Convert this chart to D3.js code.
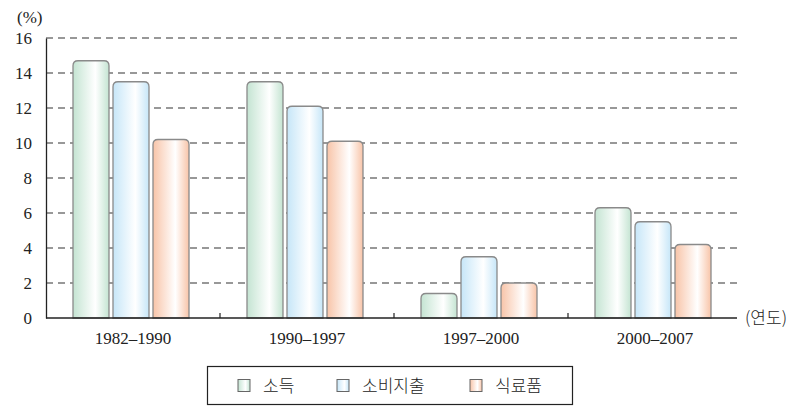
<!DOCTYPE html>
<html><head><meta charset="utf-8">
<script src="https://cdn.jsdelivr.net/npm/d3@7"></script>
<style>body{margin:0;background:#fff}</style>
</head><body>
<svg id="c" width="800" height="420"></svg>
<script>
const categories = ["1982–1990", "1990–1997", "1997–2000", "2000–2007"];
const seriesNames = ["소득", "소비지출", "식료품"];
const income = [14.7, 13.5, 1.4, 6.3];
const spending = [13.5, 12.1, 3.5, 5.5];
const food = [10.2, 10.1, 2.0, 4.2];
const yTicks = [0, 2, 4, 6, 8, 10, 12, 14, 16];
const seriesValues = [income, spending, food];
const colors = [
  {edge:"#c4e4d2", mid:"#ffffff"},
  {edge:"#c6e6f8", mid:"#ffffff"},
  {edge:"#f8c4a8", mid:"#ffffff"}
];

const svg = d3.select("#c");
const serif = "'Liberation Serif','DejaVu Serif',serif";
const m = {l:46, r:58, t:38, b:102};
const x = d3.scaleBand().domain(categories).range([m.l, 742]).paddingInner(0).paddingOuter(0);
const y = d3.scaleLinear().domain([0,16]).range([318, 38]);
const bw = 36, gap = 4;

const defs = svg.append("defs");
colors.forEach((c,i)=>{
  const g = defs.append("linearGradient").attr("id","g"+i).attr("x1","0").attr("x2","1").attr("y1","0").attr("y2","0");
  g.append("stop").attr("offset","0").attr("stop-color",c.edge);
  g.append("stop").attr("offset","0.62").attr("stop-color",c.mid);
  g.append("stop").attr("offset","1").attr("stop-color",c.edge);
});

// gridlines
svg.append("g").selectAll("line").data(yTicks.filter(d=>d>0)).join("line")
  .attr("x1", m.l).attr("x2", 740).attr("y1", d=>y(d)).attr("y2", d=>y(d))
  .attr("stroke","#333").attr("stroke-width",1.2).attr("stroke-dasharray","7,5");

function roundTopPath(x0, y0, w, h, r){
  r = Math.min(r, h, w/2);
  return `M${x0},${y0+h} L${x0},${y0+r} Q${x0},${y0} ${x0+r},${y0} L${x0+w-r},${y0} Q${x0+w},${y0} ${x0+w},${y0+r} L${x0+w},${y0+h} Z`;
}
seriesValues.forEach((vals, si)=>{
  svg.append("g").selectAll("path").data(vals).join("path")
    .attr("d", (v,i)=>{
      const cx = x(categories[i]) + x.bandwidth()/2 - 2;
      const x0 = cx - (3*bw+2*gap)/2 + si*(bw+gap);
      return roundTopPath(x0, y(v), bw, y(0)-y(v), 5);
    })
    .attr("fill", "url(#g"+si+")").attr("stroke","#8a8a8a").attr("stroke-width",1.3);
});

const yAxis = svg.append("g").attr("transform",`translate(${m.l},0)`)
  .call(d3.axisLeft(y).tickValues(yTicks).tickSize(0).tickPadding(14));
yAxis.select(".domain").attr("stroke","#222").attr("stroke-width",1.3);
yAxis.selectAll("text").attr("font-family",serif).attr("font-size",17).attr("fill","#222");

const xAxis = svg.append("g").attr("transform",`translate(0,${y(0)})`)
  .call(d3.axisBottom(x).tickSize(0).tickPadding(12));
xAxis.select(".domain").attr("stroke","#222").attr("stroke-width",1.3).attr("d",`M${m.l},0H737`);
xAxis.selectAll("text").attr("font-family",serif).attr("font-size",17).attr("fill","#222").attr("dy","0.85em");
svg.append("g").selectAll("line").data(categories.slice(1)).join("line")
  .attr("x1", d=>x(d)).attr("x2", d=>x(d)).attr("y1", y(0)).attr("y2", y(0)-5)
  .attr("stroke","#222").attr("stroke-width",1.2);

svg.append("text").attr("x",17).attr("y",23).attr("font-family",serif).attr("font-size",17).attr("fill","#222").text("(%)");
svg.append("text").attr("x",745).attr("y",324).attr("font-family","'Noto Sans CJK KR',sans-serif").attr("font-size",17).attr("font-weight",300).attr("fill","#222").text("(연도)");

const lg = svg.append("g");
lg.append("rect").attr("x",207.5).attr("y",366.5).attr("width",365).attr("height",38).attr("fill","#fff").attr("stroke","#222").attr("stroke-width",1.2);
const lx = [238, 337, 470];
seriesNames.forEach((n,i)=>{
  lg.append("rect").attr("x",lx[i]).attr("y",379.5).attr("width",12).attr("height",12)
    .attr("fill","url(#g"+i+")").attr("stroke","#666").attr("stroke-width",1);
  lg.append("text").attr("x",lx[i]+25).attr("y",392).attr("font-family","'Noto Sans CJK KR',sans-serif")
    .attr("font-size",17).attr("font-weight",300).attr("fill","#222").text(n);
});
</script>
</body></html>
